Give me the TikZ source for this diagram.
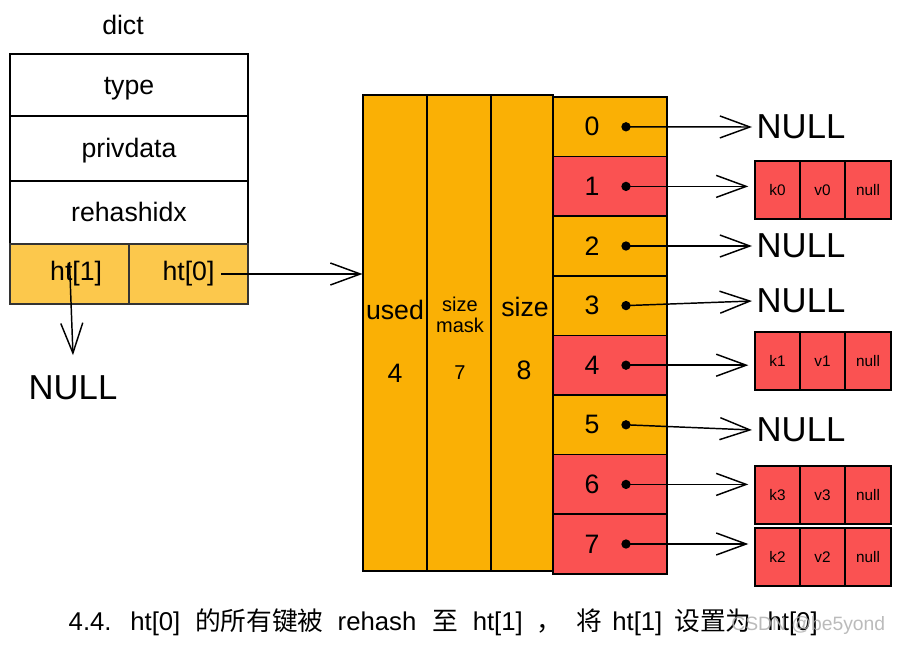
\documentclass[tikz,border=0pt]{standalone}
\usepackage{fontspec}
\setmainfont{Liberation Sans}
\newfontfamily\cjk{Noto Sans CJK SC}
\usetikzlibrary{arrows.meta, positioning}
\definecolor{htyellow}{RGB}{252,200,76}
\definecolor{taborange}{RGB}{250,176,5}
\definecolor{slotred}{RGB}{250,82,82}
\definecolor{markgray}{RGB}{175,175,175}

\tikzset{
  field/.style={draw, line width=1.3pt, minimum width=178.5pt, inner sep=0pt, text height=14.5pt, text depth=1pt, font=\fontsize{20}{24}\selectfont},
  htcell/.style={draw=black!80, line width=1.3pt, fill=htyellow, minimum width=89.25pt, minimum height=45pt, inner sep=0pt, font=\fontsize{20}{24}\selectfont},
  column/.style={draw, line width=1.3pt, fill=taborange, minimum width=47.5pt, minimum height=357pt, inner sep=0pt},
  bucket/.style={draw, line width=1.3pt, minimum width=85.5pt, minimum height=44.7pt, inner sep=0pt},
  entry/.style={draw, line width=1.3pt, fill=slotred, outer sep=0pt, minimum width=33.75pt, minimum height=43.5pt, inner sep=0pt, font=\fontsize{11.5}{13}\selectfont},
  dot/.style={circle, fill=black, minimum size=7pt, inner sep=0pt},
  big/.style={font=\fontsize{20}{24}\selectfont},
  small/.style={font=\fontsize{15}{16}\selectfont, align=center, inner sep=0pt},
  nullbig/.style={font=\fontsize{26}{30}\selectfont},
  ptr/.style={-{Straight Barb[length=22.5pt, width=16.5pt]}, line width=1.1pt}
}

\begin{document}
\begin{tikzpicture}[x=0.75pt, y=-0.75pt]
        \useasboundingbox (0,0) rectangle (901,646);

        % dict struct
        \node[big] (dict) at (123,25) {dict};
        \node[field, minimum height=46.5pt] (type) at (129,85) {type};
        \node[field, minimum height=48.75pt] (privdata) at (129,148.5) {privdata};
        \node[field, minimum height=47.25pt] (rehashidx) at (129,212.5) {rehashidx};
        \node[htcell] (ht1) at (69.5,274) {\hspace{10pt}ht[1]};
        \node[htcell] (ht0) at (188.5,274) {ht[0]};

        % ht[1] points to NULL
        \node[nullbig] (null1) at (73,388) {NULL};
        \draw[ptr] ([yshift=9pt]ht1.center) -- ([yshift=12pt]null1.north);

        % dictht of ht[0]
        \node[column] (used) at (395,333) {};
        \node[column] (sizemask) at (459,333) {};
        \node[column, minimum width=46.5pt] (size) at (522,333) {};
        \node[big] (usedtxt) at (395,310) {used};
        \node[big] (usedval) at (395,373) {4};
        \node[small] (masktxt) at (460,315) {size\\mask};
        \node[small] (maskval) at (460,373) {7};
        \node[big] (sizetxt) at (525,307) {size};
        \node[big] (sizeval) at (524,370) {8};
        \draw[ptr] ([xshift=24.4pt]ht0.center) -- (ht0.center -| used.west);

        % Buckets
        \foreach \i/\c in {0/taborange,1/slotred,2/taborange,3/taborange,4/slotred,5/taborange,6/slotred,7/slotred} {
          \node[bucket, fill=\c] (b\i) at (610,126.8+59.6*\i) {};
          \node[big] (n\i) at ([xshift=-13.5pt]b\i.center) {\i};
          \node[dot] (d\i) at ([xshift=12pt]b\i.center) {};
        }

        % Empty slots
        \foreach \i/\y in {0/127,2/246,3/301,5/430} {
          \node[nullbig, anchor=west] (nl\i) at (752,\y) {NULL};
          \draw[ptr] (d\i.center) -- (nl\i.west);
        }

        % Entries
        \foreach \i/\k/\y in {1/0/190,4/1/361,6/3/495,7/2/557} {
          \node[entry] (k\i) at (777.5,\y) {k\k};
          \node[entry, right=0pt of k\i] (v\i) {v\k};
          \node[entry, right=0pt of v\i, minimum width=34.5pt] (nx\i) {null};
          \draw[ptr, shorten >=5pt] (d\i.center) -- (d\i.center -| k\i.west);
        }

        % Caption
        \node[anchor=west, font=\fontsize{19.3}{23}\selectfont] (caption) at (64,622)
          {4.4.\hspace{14pt}ht[0]\hspace{11pt}{\cjk 的所有键被}\hspace{10.5pt}rehash\hspace{12pt}{\cjk 至}\hspace{11pt}ht[1]\hspace{10.5pt}{\cjk ，}\hspace{10.5pt}{\cjk 将}\hspace{7.5pt}ht[1]\hspace{9pt}{\cjk 设置为}\hspace{12pt}ht[0]};
        \node[anchor=east, text=markgray, opacity=0.85, font=\fontsize{14.5}{16}\selectfont] (mark) at (890,625) {CSDN @be5yond};
      \end{tikzpicture}
\end{document}
